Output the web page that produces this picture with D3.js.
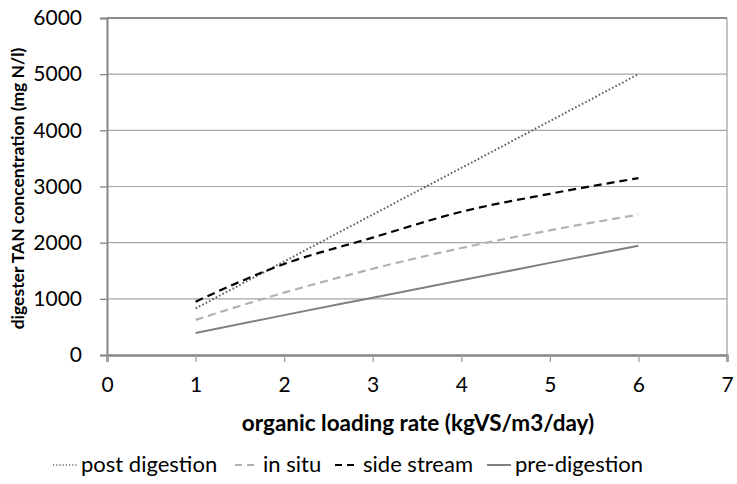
<!DOCTYPE html>
<html>
<head>
<meta charset="utf-8">
<script src="https://cdn.jsdelivr.net/npm/d3@7"></script>
<style>
  body { margin: 0; background: #fff; }
  svg { display: block; font-family: Lato, "Open Sans", sans-serif; }
</style>
</head>
<body>
<svg id="chart" width="737" height="484"></svg>
<script>
// Organic loading rate (kgVS/m3/day)
const loadingRate = [1, 2, 3, 4, 5, 6];

// Digester TAN concentration (mg N/l) per configuration
const postDigestion = [830, 1665, 2500, 3330, 4165, 5000];
const inSitu        = [625, 1110, 1535, 1905, 2220, 2500];
const sideStream    = [950, 1620, 2090, 2550, 2870, 3150];
const preDigestion  = [390, 710, 1020, 1330, 1640, 1945];

const xTicks = [0, 1, 2, 3, 4, 5, 6, 7];
const yTicks = [0, 1000, 2000, 3000, 4000, 5000, 6000];

const seriesNames = ["post digestion", "in situ", "side stream", "pre-digestion"];
const seriesValues = [postDigestion, inSitu, sideStream, preDigestion];

const styles = {
  "post digestion": { color: "#5f5f5f", dash: "1.6,2.2", width: 2 },
  "in situ":        { color: "#b2b2b2", dash: "8,5",     width: 2.2 },
  "side stream":    { color: "#000000", dash: "8,5",     width: 2.2 },
  "pre-digestion":  { color: "#808080", dash: null,      width: 2 }
};

const svg = d3.select("#chart");
const plot = { left: 107, right: 727, top: 18, bottom: 355 };

const x = d3.scaleLinear().domain([0, 7]).range([plot.left, plot.right]);
const y = d3.scaleLinear().domain([0, 6000]).range([plot.bottom, plot.top]);

// horizontal gridlines
svg.append("g")
  .selectAll("line")
  .data(yTicks.filter(d => d > 0 && d < 6000))
  .join("line")
  .attr("x1", plot.left).attr("x2", plot.right)
  .attr("y1", d => y(d)).attr("y2", d => y(d))
  .attr("stroke", "#a6a6a6").attr("stroke-width", 1.2);

// plot-area frame: top and right edges
svg.append("line")
  .attr("x1", plot.left).attr("x2", plot.right)
  .attr("y1", y(6000)).attr("y2", y(6000))
  .attr("stroke", "#1a1a1a").attr("stroke-width", 1.2);
svg.append("line")
  .attr("x1", plot.right).attr("x2", plot.right)
  .attr("y1", plot.top).attr("y2", plot.bottom)
  .attr("stroke", "#8a8a8a").attr("stroke-width", 1);

// y axis
const yAxis = svg.append("g")
  .attr("transform", `translate(${plot.left},0)`)
  .call(d3.axisLeft(y).tickValues(yTicks).tickSize(7).tickPadding(18).tickFormat(d3.format("d")));
yAxis.select(".domain").attr("stroke", "#868686").attr("stroke-width", 2);
yAxis.selectAll(".tick line").attr("stroke", "#868686").attr("stroke-width", 1.3);
yAxis.selectAll(".tick text")
  .attr("font-size", 21).attr("fill", "#000")
  .attr("font-family", "Lato, 'Open Sans', sans-serif");

// x axis
const xAxis = svg.append("g")
  .attr("transform", `translate(0,${plot.bottom})`)
  .call(d3.axisBottom(x).tickValues(xTicks).tickSize(7).tickPadding(15).tickFormat(d3.format("d")));
xAxis.select(".domain").attr("stroke", "#868686").attr("stroke-width", 2.5);
xAxis.selectAll(".tick line").attr("stroke", "#a0a0a0").attr("stroke-width", 1.3);
xAxis.selectAll(".tick text")
  .attr("font-size", 21).attr("fill", "#000")
  .attr("font-family", "Lato, 'Open Sans', sans-serif");

// series lines
const line = d3.line()
  .x((d, i) => x(loadingRate[i]))
  .y(d => y(d))
  .curve(d3.curveMonotoneX);

seriesNames.forEach((name, k) => {
  const s = styles[name];
  svg.append("path")
    .datum(seriesValues[k])
    .attr("d", line)
    .attr("fill", "none")
    .attr("stroke", s.color)
    .attr("stroke-width", s.width)
    .attr("stroke-dasharray", s.dash);
});

// axis titles
svg.append("text")
  .attr("x", 418)
  .attr("y", 431)
  .attr("text-anchor", "middle")
  .attr("font-size", 22.5).attr("font-weight", "bold")
  .text("organic loading rate (kgVS/m3/day)");

svg.append("text")
  .attr("transform", `translate(24,${(plot.top + plot.bottom) / 2 + 2}) rotate(-90)`)
  .attr("text-anchor", "middle")
  .attr("font-size", 17.5).attr("font-weight", "bold")
  .text("digester TAN concentration (mg N/l)");

// legend
const legendItems = [
  { name: "post digestion", x0: 53 },
  { name: "in situ", x0: 235 },
  { name: "side stream", x0: 335 },
  { name: "pre-digestion", x0: 487 }
];
const legend = svg.append("g");
legendItems.forEach(item => {
  const s = styles[item.name];
  legend.append("line")
    .attr("x1", item.x0).attr("x2", item.x0 + 24)
    .attr("y1", 465).attr("y2", 465)
    .attr("stroke", item.name === "post digestion" ? "#8a8a8a" : s.color)
    .attr("stroke-width", s.width)
    .attr("stroke-dasharray", item.name === "post digestion" ? "1.2,2" : (s.dash ? "7,5" : null));
  legend.append("text")
    .attr("x", item.x0 + 28)
    .attr("y", 472)
    .attr("font-size", 22)
    .text(item.name);
});
</script>
</body>
</html>
